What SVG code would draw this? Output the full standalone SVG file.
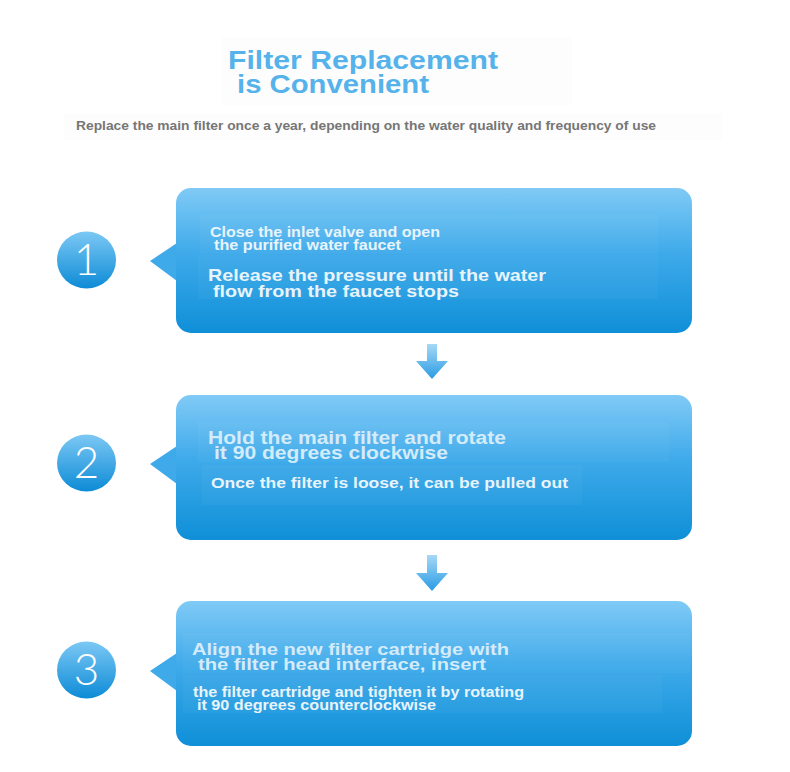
<svg xmlns="http://www.w3.org/2000/svg" width="790" height="772" viewBox="0 0 790 772">
<defs>
<linearGradient id="boxg" x1="0" y1="0" x2="0" y2="1">
<stop offset="0" stop-color="#80caf6"/>
<stop offset="0.45" stop-color="#3eaaea"/>
<stop offset="1" stop-color="#0f8fd8"/>
</linearGradient>
<linearGradient id="circg" x1="0" y1="0" x2="0" y2="1">
<stop offset="0" stop-color="#7cc8f4"/>
<stop offset="1" stop-color="#0d8bd6"/>
</linearGradient>
<linearGradient id="arrg" x1="0" y1="0" x2="0" y2="1">
<stop offset="0" stop-color="#a6d8f6"/>
<stop offset="1" stop-color="#2a9ce4"/>
</linearGradient>
</defs>
<style>
.title{font-family:"Liberation Sans",Arial,sans-serif;font-weight:bold;font-size:25px;fill:#55b2ea}
.sub{font-family:"Liberation Sans",Arial,sans-serif;font-weight:bold;font-size:13px;fill:#767676}
.t{font-family:"Liberation Sans",Arial,sans-serif;font-weight:bold;fill:#e8f4fc}
.t2{font-family:"Liberation Sans",Arial,sans-serif;font-weight:bold;fill:#d4ebfa}
.num{font-family:Lato,"DejaVu Sans",sans-serif;font-weight:300;font-size:44px;fill:#ffffff}
.panel{fill:#ffffff;fill-opacity:0.03}
.faint{fill:#fdfdfd}
</style>
<rect width="790" height="772" fill="#ffffff"/>
<g id="header">
<rect class="faint" x="222" y="37" width="350" height="68"/>
<rect class="faint" x="64" y="113" width="658" height="27"/>
<text class="title" x="228" y="69" textLength="270" lengthAdjust="spacingAndGlyphs">Filter Replacement</text>
<text class="title" x="237" y="93" textLength="192" lengthAdjust="spacingAndGlyphs">is Convenient</text>
<text class="sub" x="76" y="130" textLength="580" lengthAdjust="spacingAndGlyphs">Replace the main filter once a year, depending on the water quality and frequency of use</text>
</g>
<g id="step1">
<ellipse cx="86.5" cy="260" rx="29.5" ry="28.5" fill="url(#circg)"/>
<text class="num" x="86.5" y="275" text-anchor="middle">1</text>
<path d="M150,261 L177,243 L177,281 Z" fill="#3eaaea"/>
<rect x="176" y="188" width="516" height="145" rx="15" fill="url(#boxg)"/>
<rect class="panel" x="200" y="215" width="458" height="39"/>
<rect class="panel" x="198" y="255" width="460" height="44"/>
<text class="t" x="210" y="237" font-size="14" textLength="230" lengthAdjust="spacingAndGlyphs">Close the inlet valve and open</text>
<text class="t" x="214" y="250" font-size="14" textLength="187" lengthAdjust="spacingAndGlyphs">the purified water faucet</text>
<text class="t" x="208" y="281" font-size="17" textLength="338" lengthAdjust="spacingAndGlyphs">Release the pressure until the water</text>
<text class="t" x="213" y="297" font-size="17" textLength="246" lengthAdjust="spacingAndGlyphs">flow from the faucet stops</text>
</g>
<g id="step2">
<ellipse cx="86.5" cy="463" rx="29.5" ry="28.5" fill="url(#circg)"/>
<text class="num" x="86.5" y="478" text-anchor="middle">2</text>
<path d="M150,464 L177,446 L177,484 Z" fill="#3eaaea"/>
<rect x="176" y="395" width="516" height="145" rx="15" fill="url(#boxg)"/>
<rect class="panel" x="198" y="422" width="471" height="40"/>
<rect class="panel" x="202" y="465" width="380" height="40"/>
<text class="t2" x="208" y="444" font-size="18" textLength="298" lengthAdjust="spacingAndGlyphs">Hold the main filter and rotate</text>
<text class="t2" x="214" y="459" font-size="18" textLength="234" lengthAdjust="spacingAndGlyphs">it 90 degrees clockwise</text>
<text class="t" x="211" y="488" font-size="14.5" textLength="357" lengthAdjust="spacingAndGlyphs">Once the filter is loose, it can be pulled out</text>
</g>
<g id="step3">
<ellipse cx="86.5" cy="670" rx="29.5" ry="28.5" fill="url(#circg)"/>
<text class="num" x="86.5" y="685" text-anchor="middle">3</text>
<path d="M150,671 L177,653 L177,691 Z" fill="#3eaaea"/>
<rect x="176" y="601" width="516" height="145" rx="15" fill="url(#boxg)"/>
<rect class="panel" x="183" y="633" width="507" height="40"/>
<rect class="panel" x="183" y="675" width="479" height="38"/>
<text class="t2" x="192" y="655" font-size="17" textLength="317" lengthAdjust="spacingAndGlyphs">Align the new filter cartridge with</text>
<text class="t2" x="198" y="670" font-size="17" textLength="288" lengthAdjust="spacingAndGlyphs">the filter head interface, insert</text>
<text class="t" x="193" y="697" font-size="14" textLength="331" lengthAdjust="spacingAndGlyphs">the filter cartridge and tighten it by rotating</text>
<text class="t" x="197" y="710" font-size="14" textLength="239" lengthAdjust="spacingAndGlyphs">it 90 degrees counterclockwise</text>
</g>
<g id="connectors">
<path d="M427,344 L437,344 L437,361 L448,361 L432,379 L416,361 L427,361 Z" fill="url(#arrg)"/>
<path d="M427,555 L437,555 L437,573 L448,573 L432,591 L416,573 L427,573 Z" fill="url(#arrg)"/>
</g>
</svg>
